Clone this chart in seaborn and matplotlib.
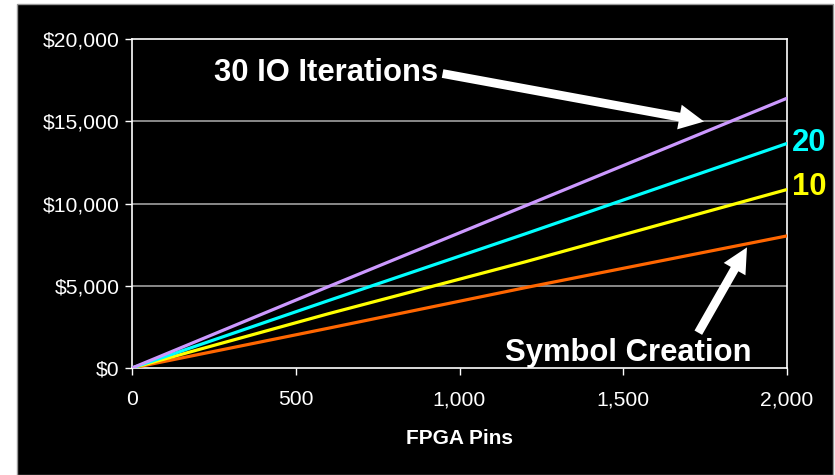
import matplotlib
matplotlib.use("Agg")
import matplotlib.pyplot as plt
import seaborn as sns
import pandas as pd
from matplotlib.patches import Rectangle, FancyArrowPatch
from matplotlib.ticker import FuncFormatter

# ---- data ----
pins = [0, 600, 1200, 2000]
symbol_creation = [0, 2420, 4880, 8030]
io_10 = [0, 3300, 6450, 10850]
io_20 = [0, 4100, 8150, 13650]
io_30 = [0, 4950, 9850, 16400]
series_names = ["Symbol Creation", "10", "20", "30 IO Iterations"]
series_colors = ["#FF6600", "#FFFF00", "#00FFFF", "#CC99FF"]
x_ticks = [0, 500, 1000, 1500, 2000]
y_ticks = [0, 5000, 10000, 15000, 20000]

rows = []
for name, vals in zip(series_names, [symbol_creation, io_10, io_20, io_30]):
    for p, v in zip(pins, vals):
        rows.append({"pins": p, "cost": v, "series": name})
df = pd.DataFrame(rows)

sns.set_style("dark")
plt.rcParams["font.family"] = ["Liberation Sans", "DejaVu Sans"]

fig = plt.figure(figsize=(8.35, 4.75), dpi=100)
fig.patch.set_facecolor("white")
fig.patches.append(Rectangle((17 / 835, 0), (833 - 17) / 835, 1 - 4 / 475,
                             transform=fig.transFigure, facecolor="black",
                             edgecolor="#999999", linewidth=1, zorder=-10))

ax = fig.add_axes([132 / 835, 1 - 368 / 475, (787 - 132) / 835, (368 - 39) / 475])
ax.set_facecolor("black")

sns.lineplot(data=df, x="pins", y="cost", hue="series", hue_order=series_names,
             palette=series_colors, linewidth=2.3, ax=ax, legend=False, zorder=3)

ax.set_xlim(0, 2000)
ax.set_ylim(0, 20000)
ax.set_xticks(x_ticks)
ax.set_yticks(y_ticks)
ax.xaxis.set_major_formatter(FuncFormatter(lambda v, p: f"{int(v):,}"))
ax.yaxis.set_major_formatter(FuncFormatter(lambda v, p: f"${int(v):,}"))
ax.grid(False)
for yv in y_ticks[1:-1]:
    ax.axhline(yv, color="#A0A0A0", linewidth=1.2, zorder=1)
for s in ax.spines.values():
    s.set_visible(True)
    s.set_color("white")
    s.set_linewidth(1.2)
ax.tick_params(axis="both", colors="white", labelcolor="white", labelsize=15.2,
               direction="out", length=5, width=1, bottom=True, left=True)
ax.tick_params(axis="x", pad=11)
ax.tick_params(axis="y", pad=4)
ax.set_xlabel("FPGA Pins", color="white", fontsize=15, fontweight="bold", labelpad=14)
ax.set_ylabel("")

# annotations
fs = 22.3
ax.text(935, 17930, "30 IO Iterations", color="white", fontsize=fs,
        fontweight="bold", ha="right", va="center")
ax.text(1139, 930, "Symbol Creation", color="white", fontsize=fs,
        fontweight="bold", ha="left", va="center")
ax.text(2015, 13650, "20", color=series_colors[2], fontsize=fs,
        fontweight="bold", ha="left", va="center")
ax.text(2015, 11000, "10", color=series_colors[1], fontsize=fs,
        fontweight="bold", ha="left", va="center")

style = "simple,head_width=1.0,head_length=1.0,tail_width=0.35"
for start, end in [((940, 17930), (1755, 14950)), ((1725, 2000), (1882, 7480))]:
    arr = FancyArrowPatch(start, end, arrowstyle=style, mutation_scale=18,
                          color="white", linewidth=0, zorder=5, clip_on=False)
    ax.add_patch(arr)

fig.savefig("out.png", dpi=100, facecolor=fig.get_facecolor())
